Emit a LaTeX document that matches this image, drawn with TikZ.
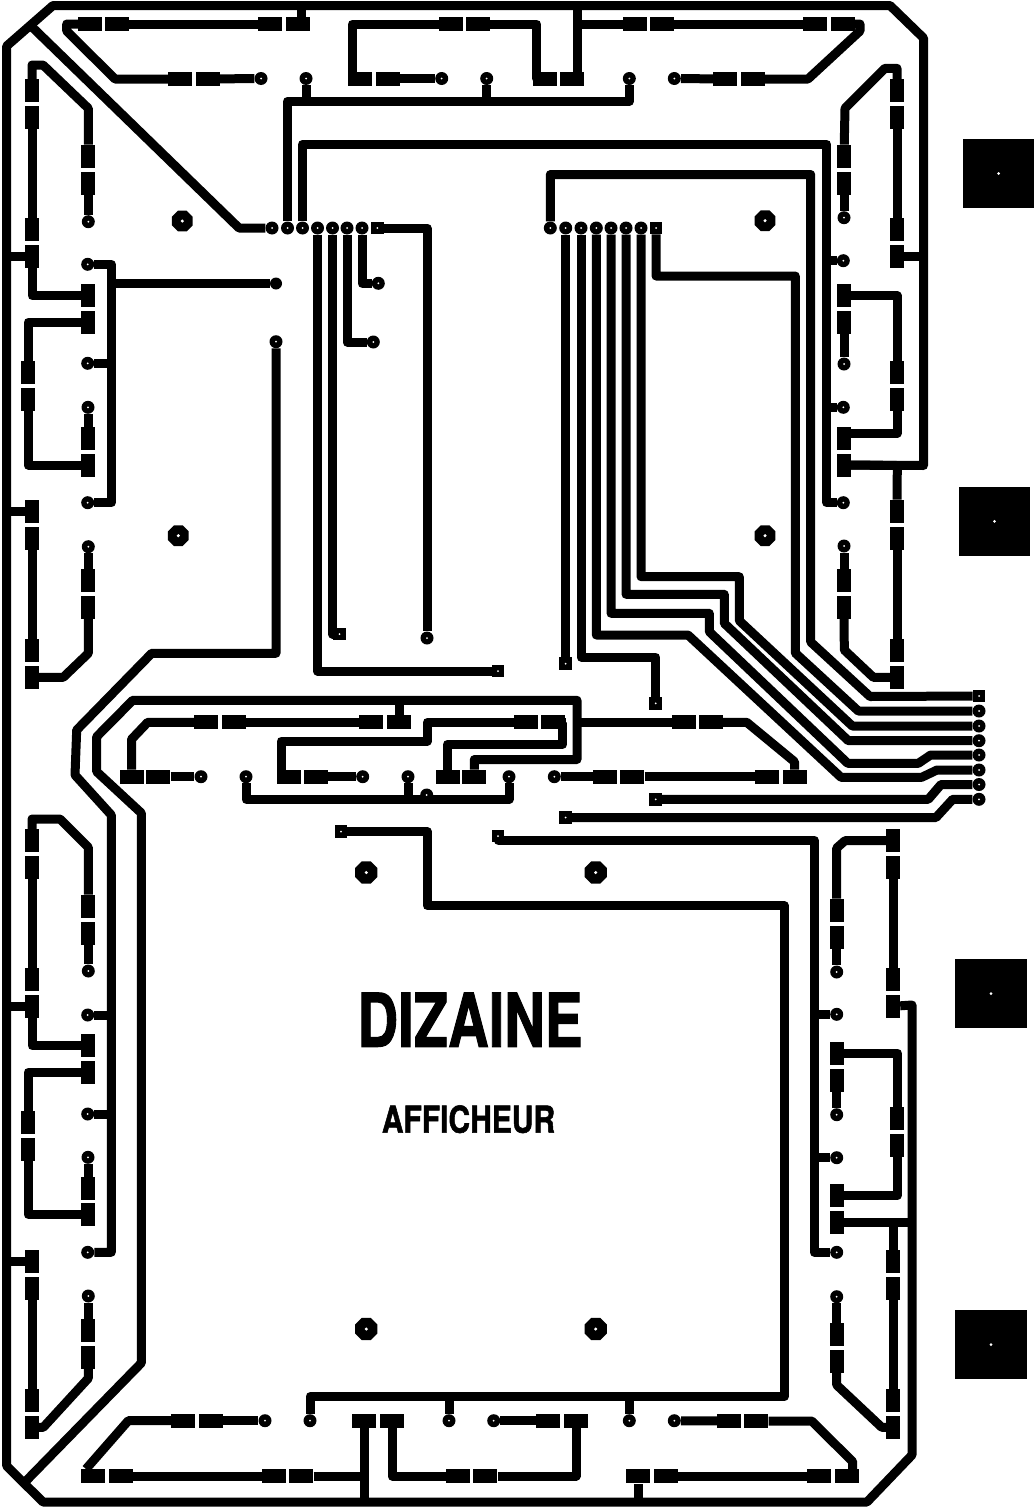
\documentclass[tikz,border=0pt]{standalone}
\usepackage{fontspec}
\newfontface\platefont{TeX Gyre Heros Bold}[FakeBold=1.6]
\usetikzlibrary{backgrounds,shapes.geometric}

\tikzset{
  padh/.style={rectangle, fill=black, inner sep=0pt, minimum width=24pt, minimum height=14pt},
  padv/.style={rectangle, fill=black, inner sep=0pt, minimum width=14pt, minimum height=23pt},
  drilled/.style={path picture={\fill[white] (path picture bounding box.center) circle (#1);}},
  via/.style={circle, fill=black, inner sep=0pt, minimum size=13pt, drilled=1pt},
  blind/.style={circle, fill=black, inner sep=0pt, minimum size=12pt},
  sqvia/.style={rectangle, fill=black, inner sep=0pt, minimum size=12.5pt, drilled=1pt},
  fixing/.style={regular polygon, regular polygon sides=8, fill=black,
    inner sep=0pt, minimum size=#1, drilled=1.7pt},
  contact/.style={rectangle, fill=black, inner sep=0pt, minimum width=71.5pt, minimum height=69pt, drilled=1.5pt},
  track/.style={draw=black, line width=9pt, line join=round}
}

\begin{document}
\begin{tikzpicture}[x=1pt, y=-1pt]
  \useasboundingbox (0,0) rectangle (1035,1507);

  % contacts and fixing holes
  \node[contact] (cA) at (998.5,173.5) {};
  \node[contact] (cB) at (994.5,521.3) {};
  \node[contact] (cC) at (991,993.5) {};
  \node[contact] (cD) at (991,1344.5) {};
  \node[fixing=22.5pt] (fA) at (182.3,221) {};
  \node[fixing=22.5pt] (fB) at (178.3,535.7) {};
  \node[fixing=22.5pt] (fC) at (765,220.7) {};
  \node[fixing=22.5pt] (fD) at (765,535.7) {};
  \node[fixing=24pt] (fE) at (366.3,872.5) {};
  \node[fixing=24pt] (fF) at (595.7,872.5) {};
  \node[fixing=24pt] (fG) at (366.3,1329) {};
  \node[fixing=24pt] (fH) at (595.7,1329) {};

  % top row
  \node[padh] (tA) at (90,24) {};
  \node[padh] (tB) at (117,24) {};
  \node[padh] (tC) at (270,24) {};
  \node[padh] (tD) at (298,24) {};
  \node[padh] (tE) at (180,79) {};
  \node[padh] (tF) at (208,79) {};
  \node[padh] (tG) at (451,24) {};
  \node[padh] (tH) at (478,24) {};
  \node[padh] (tI) at (360,78.5) {};
  \node[padh] (tJ) at (388,78.5) {};
  \node[padh] (tK) at (544.7,78.5) {};
  \node[padh] (tL) at (572,78.5) {};
  \node[padh] (tM) at (635,24) {};
  \node[padh] (tN) at (662,24) {};
  \node[padh] (tO) at (815,24) {};
  \node[padh] (tP) at (843,24) {};
  \node[padh] (tQ) at (725,79) {};
  \node[padh] (tR) at (753,79) {};
  \node[via] (vA) at (261,78.5) {};
  \node[via] (vB) at (441.7,78.5) {};
  \node[via] (vC) at (674.3,78.5) {};
  \node[via] (vD) at (306,78.5) {};
  \node[via] (vE) at (486.7,78.5) {};
  \node[via] (vF) at (629.3,78.5) {};

  % connector rows
  \node[via] (aA) at (272,228) {};
  \node[via] (aB) at (287.5,228) {};
  \node[via] (aC) at (302.5,228) {};
  \node[via] (aD) at (317.5,228) {};
  \node[via] (aE) at (332.5,228) {};
  \node[via] (aF) at (347,228) {};
  \node[via] (aG) at (362,228) {};
  \node[sqvia] (aH) at (377.3,228) {};
  \node[via] (bA) at (550.3,228) {};
  \node[via] (bB) at (565.7,228) {};
  \node[via] (bC) at (581,228) {};
  \node[via] (bD) at (596.3,228) {};
  \node[via] (bE) at (611,228) {};
  \node[via] (bF) at (626,228) {};
  \node[via] (bG) at (641,228) {};
  \node[sqvia] (bH) at (656,228) {};
  \node[sqvia] (eA) at (979,696) {};
  \node[via] (eB) at (979,711) {};
  \node[via] (eC) at (979,726) {};
  \node[via] (eD) at (979,740.7) {};
  \node[via] (eE) at (979,755) {};
  \node[via] (eF) at (979,770) {};
  \node[via] (eG) at (979,784.5) {};
  \node[via] (eH) at (979,799.3) {};

  % link ends
  \node[sqvia] (qA) at (565.7,663.7) {};
  \node[sqvia] (qB) at (655.7,703.3) {};
  \node[sqvia] (qC) at (655.7,799.3) {};
  \node[sqvia] (qD) at (565.7,817.5) {};
  \node[sqvia] (qE) at (498,671) {};
  \node[sqvia] (qF) at (339.5,634) {};
  \node[sqvia] (qG) at (498,836) {};
  \node[sqvia] (qH) at (341,831.7) {};
  \node[via] (vG) at (373.3,342) {};
  \node[via] (vH) at (378.3,283.3) {};
  \node[via] (vI) at (427,638) {};
  \node[blind] (vJ) at (276,283.5) {};
  \node[via] (vK) at (276,341.7) {};

  % left, upper
  \node[padv] (lA) at (32,90) {};
  \node[padv] (lB) at (32,117.3) {};
  \node[padv] (lC) at (88.3,156.3) {};
  \node[padv] (lD) at (88.3,183.3) {};
  \node[padv] (lE) at (32,229.3) {};
  \node[padv] (lF) at (32,256.7) {};
  \node[padv] (lG) at (88,295.7) {};
  \node[padv] (lH) at (88,322.3) {};
  \node[padv] (lI) at (28,372.5) {};
  \node[padv] (lJ) at (28,399) {};
  \node[padv] (lK) at (88,465) {};
  \node[padv] (lL) at (88,438.3) {};
  \node[padv] (lM) at (32,511.3) {};
  \node[padv] (lN) at (32,538.3) {};
  \node[padv] (lO) at (32,650.7) {};
  \node[padv] (lP) at (32,677.3) {};
  \node[padv] (lQ) at (88.3,607.3) {};
  \node[padv] (lR) at (88.3,580.3) {};
  \node[via] (wA) at (88.3,221.7) {};
  \node[via] (wB) at (88,407.3) {};
  \node[via] (wC) at (87.7,264.3) {};
  \node[via] (wD) at (87.7,363.3) {};
  \node[via] (wE) at (87.7,502.7) {};
  \node[via] (wF) at (88.3,546.7) {};

  % left, lower
  \node[padv] (kA) at (32,840.3) {};
  \node[padv] (kB) at (32,867.3) {};
  \node[padv] (kC) at (88.3,906.3) {};
  \node[padv] (kD) at (88.3,933.3) {};
  \node[padv] (kE) at (32,979.3) {};
  \node[padv] (kF) at (32,1006.3) {};
  \node[padv] (kG) at (88,1045.7) {};
  \node[padv] (kH) at (88,1072.3) {};
  \node[padv] (kI) at (28,1122.3) {};
  \node[padv] (kJ) at (28,1149) {};
  \node[padv] (kK) at (88,1214.3) {};
  \node[padv] (kL) at (88,1188.3) {};
  \node[padv] (kM) at (32,1261.3) {};
  \node[padv] (kN) at (32,1288.3) {};
  \node[padv] (kO) at (32,1400.3) {};
  \node[padv] (kP) at (32,1427.3) {};
  \node[padv] (kQ) at (88.3,1357.3) {};
  \node[padv] (kR) at (88.3,1330.3) {};
  \node[via] (xA) at (88.3,971) {};
  \node[via] (xB) at (87.7,1015) {};
  \node[via] (xC) at (87.7,1114) {};
  \node[via] (xD) at (88,1157.3) {};
  \node[via] (xE) at (87.7,1252.3) {};
  \node[via] (xF) at (88.3,1296) {};

  % middle rows
  \node[padh] (mA) at (206,722.3) {};
  \node[padh] (mB) at (131.5,776.7) {};
  \node[padh] (mC) at (158.3,776.7) {};
  \node[padh] (mD) at (234,722.3) {};
  \node[padh] (mE) at (371.3,722.3) {};
  \node[padh] (mF) at (399,722.3) {};
  \node[padh] (mG) at (525.7,722.3) {};
  \node[padh] (mH) at (288.7,776.7) {};
  \node[padh] (mI) at (316,776.7) {};
  \node[padh] (mJ) at (553.3,722.3) {};
  \node[padh] (mK) at (447.5,776.7) {};
  \node[padh] (mL) at (474.3,776.7) {};
  \node[padh] (mM) at (605,776.7) {};
  \node[padh] (mN) at (632.3,776.7) {};
  \node[padh] (mO) at (766.7,776.7) {};
  \node[padh] (mP) at (794.5,776.7) {};
  \node[padh] (mQ) at (684,722.3) {};
  \node[padh] (mR) at (711,722.3) {};
  \node[via] (yA) at (201,776.7) {};
  \node[via] (yB) at (362.7,776.7) {};
  \node[via] (yC) at (408,776.7) {};
  \node[via] (yD) at (246,776.7) {};
  \node[via] (yE) at (509,776.7) {};
  \node[via] (yF) at (426.7,795) {};
  \node[via] (yG) at (554.3,776.7) {};

  % right, upper
  \node[padv] (rA) at (897,90.3) {};
  \node[padv] (rB) at (897,117.3) {};
  \node[padv] (rC) at (844,156.3) {};
  \node[padv] (rD) at (844,183.3) {};
  \node[padv] (rE) at (897,229.3) {};
  \node[padv] (rF) at (897,256.7) {};
  \node[padv] (rG) at (844,295.7) {};
  \node[padv] (rH) at (844,322.3) {};
  \node[padv] (rI) at (897,372.7) {};
  \node[padv] (rJ) at (897,399) {};
  \node[padv] (rK) at (844,438.3) {};
  \node[padv] (rL) at (844,465) {};
  \node[padv] (rM) at (897,511.3) {};
  \node[padv] (rN) at (897,538.3) {};
  \node[padv] (rO) at (897,650.7) {};
  \node[padv] (rP) at (897,677.3) {};
  \node[padv] (rQ) at (844,607.3) {};
  \node[padv] (rR) at (844,580.3) {};
  \node[via] (zA) at (844,217.7) {};
  \node[via] (zB) at (843.3,260.7) {};
  \node[via] (zC) at (844,364) {};
  \node[via] (zD) at (843.3,407.3) {};
  \node[via] (zE) at (843.3,502.7) {};
  \node[via] (zF) at (844,546) {};

  % right, lower
  \node[padv] (sA) at (893,840.7) {};
  \node[padv] (sB) at (893,867.3) {};
  \node[padv] (sC) at (893,979.3) {};
  \node[padv] (sD) at (893,1006.3) {};
  \node[padv] (sE) at (836.7,910.3) {};
  \node[padv] (sF) at (836.7,937.3) {};
  \node[padv] (sG) at (836.7,1053) {};
  \node[padv] (sH) at (897.3,1118.3) {};
  \node[padv] (sI) at (897.3,1145.3) {};
  \node[padv] (sJ) at (836.7,1195.5) {};
  \node[padv] (sK) at (836.7,1080) {};
  \node[padv] (sL) at (836.7,1222.3) {};
  \node[padv] (sM) at (893,1261.3) {};
  \node[padv] (sN) at (893,1288.3) {};
  \node[padv] (sO) at (893,1400.3) {};
  \node[padv] (sP) at (893,1427.3) {};
  \node[padv] (sQ) at (836.7,1361.3) {};
  \node[padv] (sR) at (836.7,1334.3) {};
  \node[via] (gA) at (836.7,972) {};
  \node[via] (gB) at (836.7,1014.3) {};
  \node[via] (gC) at (836.7,1114.7) {};
  \node[via] (gD) at (836.7,1157.7) {};
  \node[via] (gE) at (836.7,1252.3) {};
  \node[via] (gF) at (836.7,1296.7) {};

  % bottom row
  \node[padh] (uA) at (93,1476) {};
  \node[padh] (uB) at (121,1476) {};
  \node[padh] (uC) at (274,1476) {};
  \node[padh] (uD) at (301.3,1476) {};
  \node[padh] (uE) at (183.3,1420.7) {};
  \node[padh] (uF) at (211,1420.7) {};
  \node[padh] (uG) at (364,1420.7) {};
  \node[padh] (uH) at (392,1420.7) {};
  \node[padh] (uI) at (458,1476) {};
  \node[padh] (uJ) at (485.3,1476) {};
  \node[padh] (uK) at (548.3,1420.7) {};
  \node[padh] (uL) at (576,1420.7) {};
  \node[padh] (uM) at (638.3,1476.3) {};
  \node[padh] (uN) at (666,1476.3) {};
  \node[padh] (uO) at (819,1476.3) {};
  \node[padh] (uP) at (846.5,1476.3) {};
  \node[padh] (uQ) at (729,1421) {};
  \node[padh] (uR) at (756.3,1421) {};
  \node[via] (hA) at (265,1420.7) {};
  \node[via] (hB) at (310,1420.7) {};
  \node[via] (hC) at (449,1420.7) {};
  \node[via] (hD) at (493.7,1420.7) {};
  \node[via] (hE) at (629.3,1420.7) {};
  \node[via] (hF) at (674.3,1420.7) {};

  % lettering
  \node[xscale=.76] (dizaine) at (470,1019.7) {\fontsize{74}{80}\platefont DIZAINE};
  \node[xscale=.81] (afficheur) at (468.5,1119.2) {\fontsize{37}{40}\platefont AFFICHEUR};

  % free ends on the rails
  \coordinate (topA) at (301.7,5.5);
  \coordinate (topB) at (577.3,5.5);
  \coordinate (botA) at (364,1502);
  \coordinate (botB) at (638.3,1502);
  \coordinate (cornerA) at (30,25);
  \coordinate (cornerB) at (24,1483);
  \coordinate (cornerC) at (86,1469);

  \begin{scope}[on background layer]
    \fill[white] (0,0) rectangle (1035,1507);

    % outer rail
    \draw[track] (rL) -- (923.5,465.5) -- (923.5,38) -- (890,5.5) -- (53,5.5) -- (6.7,46) -- (6.7,1466)
      -- (43,1502) -- (867,1502) -- (912,1455) -- (912,1005) -- (sD);
    \draw[track] (cornerA) -- (239,228) -- (aA);
    \draw[track] (cornerB) -- (141.3,1363) -- (141.3,813) -- (96.7,771.7) -- (96.7,736.7) -- (132.7,700.3)
      -- (577,700.3) -- (577,759.5) -- (474.3,759.5) -- (mL);
    \draw[track] (topA) -- (topA |- tD);
    \draw[track] (topB) -- (topB |- tL);
    \draw[track] (botA) -- (uG);
    \draw[track] (botB) -- (uM);
    \draw[track] (lF) -- (6.7,256.7);
    \draw[track] (lM) -- (6.7,511.3);
    \draw[track] (kF) -- (6.7,1006.3);
    \draw[track] (kM) -- (6.7,1261.3);
    \draw[track] (rF) -- (923.5,256.7);
    \draw[track] (rP) -- (873.3,677.3) -- (844.3,650) -- (rQ);
    \draw[track] (rL.center) -- (897.3,465.5) -- (rM);
    \draw[track] (rN) -- (rO);
    \draw[track] (rR) -- (zF);

    % top row
    \draw[track] (tA) -- (66.7,24) -- (66.7,31) -- (115,79) -- (tE);
    \draw[track] (tB) -- (tC);
    \draw[track] (tF) -- (vA);
    \draw[track] (tG) -- (352.3,24) -- (352.3,78.5) -- (tI.center);
    \draw[track] (tH) -- (536.7,24) -- (536.7,78.5) -- (tK.center);
    \draw[track] (tJ) -- (vB);
    \draw[track] (topB |- tM) -- (tM);
    \draw[track] (tN) -- (tO);
    \draw[track] (tP) -- (860,24) -- (860,31) -- (808,79) -- (tR);
    \draw[track] (vC) -- (tQ);
    \draw[track] (aB) -- (287.5,101.3) -- (629.3,101.3) -- (vF);
    \draw[track] (vD) -- (306,101.3);
    \draw[track] (vE) -- (486.7,101.3);

    % long links
    \draw[track] (aC) -- (302.5,144.3) -- (826.7,144.3) -- (826.7,502.7) -- (zE);
    \draw[track] (zB) -- (826.7,260.7);
    \draw[track] (zD) -- (826.7,407.3);
    \draw[track] (bA) -- (550.3,174.5) -- (810.7,174.5) -- (810.7,642) -- (870,696.5) -- (eA);
    \draw[track] (bH) -- (656,276) -- (795.3,276) -- (795.3,653) -- (858.3,711) -- (eB);
    \draw[track] (bG) -- (641,576.7) -- (739.3,576.7) -- (739.3,620.7) -- (852.3,726) -- (eC);
    \draw[track] (bF) -- (626,594.3) -- (724.3,594.3) -- (724.3,623.3) -- (848.3,740.7) -- (eD);
    \draw[track] (bE) -- (611,613.3) -- (709.3,613.3) -- (709.3,631.7) -- (847.7,763.3) -- (918.3,763.3)
      -- (930.7,755) -- (eE);
    \draw[track] (bD) -- (596.3,635) -- (688,635) -- (841,777.3) -- (921.7,777.3) -- (937,770) -- (eF);
    \draw[track] (bC) -- (581,657) -- (655.7,657) -- (qB);
    \draw[track] (bB) -- (qA);
    \draw[track] (eG) -- (941,784.5) -- (928.3,799.3) -- (qC);
    \draw[track] (eH) -- (952.7,799.3) -- (936,817.5) -- (qD);
    \draw[track] (aD) -- (317.5,671) -- (qE);
    \draw[track] (aE) -- (332.5,634) -- (qF);
    \draw[track] (aF) -- (347,342) -- (vG);
    \draw[track] (aG) -- (362,283.3) -- (vH);
    \draw[track] (aH) -- (427,228) -- (vI);
    \draw[track] (qG.center) -- (498,840.3) -- (814.3,840.3) -- (814.3,1252.3) -- (gE);
    \draw[track] (gB) -- (814.3,1014.3);
    \draw[track] (gD) -- (814.3,1157.7);
    \draw[track] (qH) -- (427.3,831.7) -- (427.3,905.7) -- (784.3,905.7) -- (784.3,1396.5) -- (310,1396.5) -- (hB);
    \draw[track] (hC) -- (449,1396.5);
    \draw[track] (hE) -- (629.3,1396.5);

    % left, upper
    \draw[track] (vJ) -- (111.3,283.5);
    \draw[track] (vK) -- (276,653.3) -- (151.7,653.3) -- (76.7,730) -- (75,775) -- (111.3,815) -- (111.3,1252.3) -- (xE);
    \draw[track] (wC) -- (111.3,264.3) -- (111.3,502.7) -- (wE);
    \draw[track] (wD) -- (111.3,363.3);
    \draw[track] (lA.center) -- (32,65) -- (43,65) -- (88.3,108.3) -- (lC);
    \draw[track] (lD) -- (wA);
    \draw[track] (lB) -- (lE);
    \draw[track] (lF) -- (32,295.7) -- (lG.center);
    \draw[track] (lH.center) -- (28,322.3) -- (lI);
    \draw[track] (lJ) -- (28,465) -- (lK.center);
    \draw[track] (lL) -- (wB);
    \draw[track] (lN) -- (lO);
    \draw[track] (lP.center) -- (63.3,677.3) -- (88.3,653.3) -- (lQ);
    \draw[track] (lR) -- (wF);

    % left, lower
    \draw[track] (xB) -- (111.3,1015);
    \draw[track] (xC) -- (111.3,1114);
    \draw[track] (kA.center) -- (32,819) -- (60,819) -- (88.3,847.3) -- (kC);
    \draw[track] (kD) -- (xA);
    \draw[track] (kB) -- (kE);
    \draw[track] (kF) -- (32,1045.7) -- (kG.center);
    \draw[track] (kH.center) -- (28,1072.3) -- (kI);
    \draw[track] (kJ) -- (28,1214.3) -- (kK.center);
    \draw[track] (kL) -- (xD);
    \draw[track] (kN) -- (kO);
    \draw[track] (kP.center) -- (43.3,1427.3) -- (88.3,1378.3) -- (kQ);
    \draw[track] (kR) -- (xF);

    % middle rows
    \draw[track] (mA) -- (147.7,722.3) -- (131.5,739.3) -- (mB);
    \draw[track] (mC) -- (yA);
    \draw[track] (mD) -- (mE);
    \draw[track] (mF) -- (mF |- 0,700.3);
    \draw[track] (mG) -- (427.3,722.3) -- (427.3,741) -- (281,741) -- (281,776.7) -- (mH.center);
    \draw[track] (mI) -- (yB);
    \draw[track] (mJ) -- (562.7,722.3) -- (562.7,744.3) -- (447.5,744.3) -- (mK);
    \draw[track] (yC) -- (408,799.3);
    \draw[track] (yD) -- (246,799.3) -- (509,799.3) -- (yE);
    \draw[track] (yG) -- (mM);
    \draw[track] (mN) -- (mO);
    \draw[track] (577,722.3) -- (mQ);
    \draw[track] (mR) -- (746.7,722.3) -- (794.5,761.7) -- (mP);

    % right, upper
    \draw[track] (rA.center) -- (897,68.3) -- (885,68.3) -- (845,108.3) -- (rC);
    \draw[track] (rD) -- (zA);
    \draw[track] (rB) -- (rE);
    \draw[track] (rG.center) -- (897,295.7) -- (rI);
    \draw[track] (rH) -- (zC);
    \draw[track] (rJ) -- (897,433.3) -- (rK |- 0,433.3);

    % right, lower
    \draw[track] (sA) -- (845,840.7) -- (836.7,848) -- (sE);
    \draw[track] (sF) -- (gA);
    \draw[track] (sB) -- (sC);
    \draw[track] (sG) -- (897.3,1053) -- (sH);
    \draw[track] (sI) -- (897.3,1195.5) -- (sJ);
    \draw[track] (sK) -- (gC);
    \draw[track] (sL) -- (912,1222.3);
    \draw[track] (sM) -- (893,1222.3);
    \draw[track] (sN) -- (sO);
    \draw[track] (sP.center) -- (881.7,1427.3) -- (836.7,1385) -- (sQ);
    \draw[track] (sR) -- (gF);

    % bottom row
    \draw[track] (cornerC) -- (128.3,1420.7) -- (uE);
    \draw[track] (uB) -- (uC);
    \draw[track] (uF) -- (hA);
    \draw[track] (uD) -- (364,1476);
    \draw[track] (uH) -- (392,1476) -- (uI);
    \draw[track] (uL) -- (576,1476) -- (uJ);
    \draw[track] (hD) -- (uK);
    \draw[track] (uN) -- (uO);
    \draw[track] (hF) -- (uQ);
    \draw[track] (uR) -- (811.7,1421) -- (852.7,1461.7) -- (uP.north -| 852.7,0);
  \end{scope}
\end{tikzpicture}
\end{document}
